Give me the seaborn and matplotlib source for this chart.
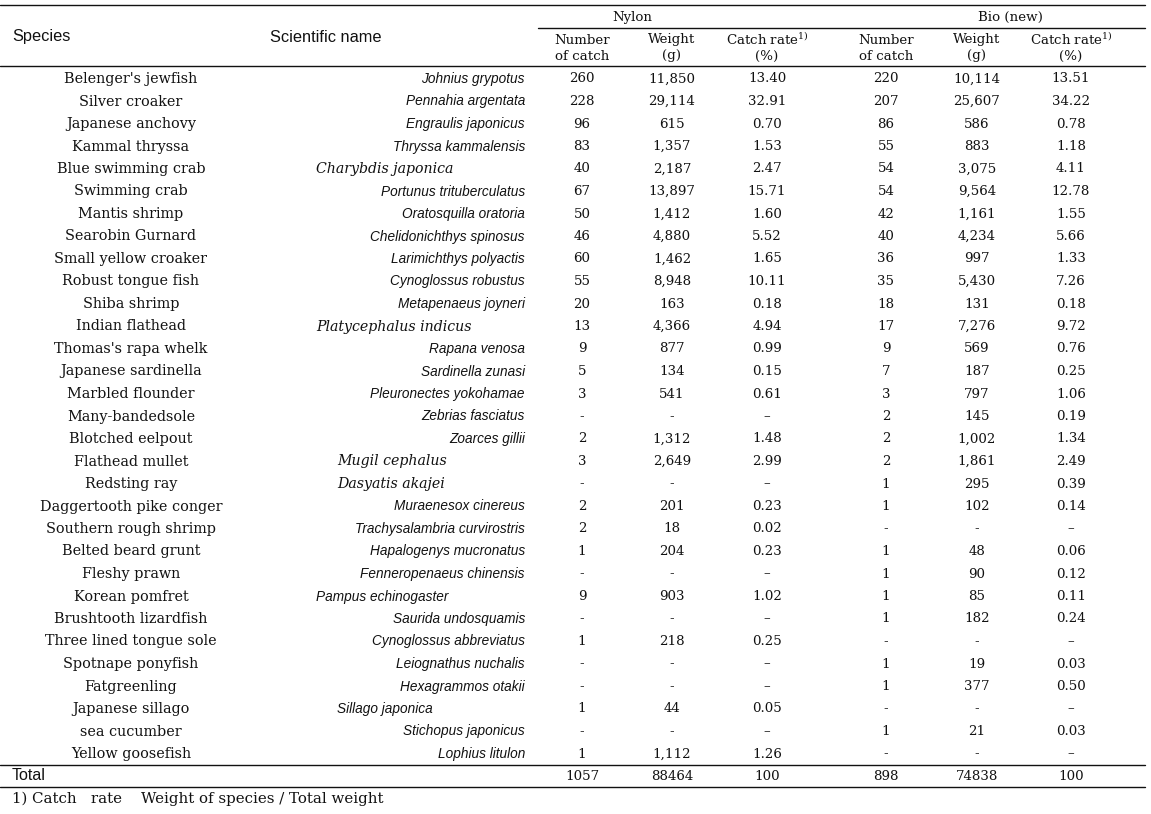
import matplotlib
matplotlib.use("Agg")
import matplotlib.pyplot as plt
import seaborn as sns
import pandas as pd

# ── Data ──────────────────────────────────────────────────────────────────────
species = [
    "Belenger's jewfish", "Silver croaker", "Japanese anchovy", "Kammal thryssa",
    "Blue swimming crab", "Swimming crab", "Mantis shrimp", "Searobin Gurnard",
    "Small yellow croaker", "Robust tongue fish", "Shiba shrimp", "Indian flathead",
    "Thomas's rapa whelk", "Japanese sardinella", "Marbled flounder", "Many-bandedsole",
    "Blotched eelpout", "Flathead mullet", "Redsting ray", "Daggertooth pike conger",
    "Southern rough shrimp", "Belted beard grunt", "Fleshy prawn", "Korean pomfret",
    "Brushtooth lizardfish", "Three lined tongue sole", "Spotnape ponyfish",
    "Fatgreenling", "Japanese sillago", "sea cucumber", "Yellow goosefish",
]
scientific = [
    "Johnius grypotus", "Pennahia argentata", "Engraulis japonicus", "Thryssa kammalensis",
    "Charybdis japonica", "Portunus trituberculatus", "Oratosquilla oratoria",
    "Chelidonichthys spinosus", "Larimichthys polyactis", "Cynoglossus robustus",
    "Metapenaeus joyneri", "Platycephalus indicus", "Rapana venosa", "Sardinella zunasi",
    "Pleuronectes yokohamae", "Zebrias fasciatus", "Zoarces gillii", "Mugil cephalus",
    "Dasyatis akajei", "Muraenesox cinereus", "Trachysalambria curvirostris",
    "Hapalogenys mucronatus", "Fenneropenaeus chinensis", "Pampus echinogaster",
    "Saurida undosquamis", "Cynoglossus abbreviatus", "Leiognathus nuchalis",
    "Hexagrammos otakii", "Sillago japonica", "Stichopus japonicus", "Lophius litulon",
]
n_nylon = [260, 228, 96, 83, 40, 67, 50, 46, 60, 55, 20, 13, 9, 5, 3, None, 2, 3,
           None, 2, 2, 1, None, 9, None, 1, None, None, 1, None, 1]
w_nylon = [11850, 29114, 615, 1357, 2187, 13897, 1412, 4880, 1462, 8948, 163, 4366,
           877, 134, 541, None, 1312, 2649, None, 201, 18, 204, None, 903, None, 218,
           None, None, 44, None, 1112]
r_nylon = [13.40, 32.91, 0.70, 1.53, 2.47, 15.71, 1.60, 5.52, 1.65, 10.11, 0.18, 4.94,
           0.99, 0.15, 0.61, None, 1.48, 2.99, None, 0.23, 0.02, 0.23, None, 1.02, None,
           0.25, None, None, 0.05, None, 1.26]
n_bio = [220, 207, 86, 55, 54, 54, 42, 40, 36, 35, 18, 17, 9, 7, 3, 2, 2, 2, 1, 1,
         None, 1, 1, 1, 1, None, 1, 1, None, 1, None]
w_bio = [10114, 25607, 586, 883, 3075, 9564, 1161, 4234, 997, 5430, 131, 7276, 569,
         187, 797, 145, 1002, 1861, 295, 102, None, 48, 90, 85, 182, None, 19, 377,
         None, 21, None]
r_bio = [13.51, 34.22, 0.78, 1.18, 4.11, 12.78, 1.55, 5.66, 1.33, 7.26, 0.18, 9.72,
         0.76, 0.25, 1.06, 0.19, 1.34, 2.49, 0.39, 0.14, None, 0.06, 0.12, 0.11, 0.24,
         None, 0.03, 0.50, None, 0.03, None]
totals = ["1057", "88464", "100", "898", "74838", "100"]

# ── Style (how some scientific names were typeset in the source) ─────────────
# "r" = right aligned sans italic, "ls*" = left serif italic, "l*" = left sans italic
sci_style = ["r"] * len(scientific)
for i in (4, 11):
    sci_style[i] = "ls1"
for i in (17, 18):
    sci_style[i] = "ls2"
sci_style[23] = "l1"
sci_style[28] = "l2"

df = pd.DataFrame({
    "species": species, "scientific": scientific,
    "n_nylon": n_nylon, "w_nylon": w_nylon, "r_nylon": r_nylon,
    "n_bio": n_bio, "w_bio": w_bio, "r_bio": r_bio,
})


def fmt_int(v, comma=True):
    if v is None or pd.isna(v):
        return "-"
    return f"{int(v):,}" if comma else str(int(v))


def fmt_rate(v):
    if v is None or pd.isna(v):
        return "–"
    return f"{v:.2f}"


sns.set_theme(style="white")
plt.rcParams["font.family"] = ["DejaVu Serif"]
plt.rcParams["mathtext.fontset"] = "dejavuserif"

W, H = 1151, 814
fig = plt.figure(figsize=(W / 100, H / 100), dpi=100)
ax = fig.add_axes([0, 0, 1, 1])
ax.set_xlim(0, W)
ax.set_ylim(H, 0)
ax.axis("off")

serif = "DejaVu Serif"
sans = "Liberation Sans"
fs = 9.6          # numbers / sub headers
fs_sp = 10.4      # species names (wide serif in the source)
fs_sci = 9.8
ink = "#111111"

# column centres
x_sp, x_sci = 131, 525
x_cols = [582, 672, 767, 886, 977, 1071]
left_x = {"ls1": 316, "ls2": 337, "l1": 316, "l2": 337}

row0, step = 79, 22.5

# ── Rules ─────────────────────────────────────────────────────────────────────
lw = 1.0
ax.plot([0, 1145], [5, 5], color=ink, lw=lw)
ax.plot([538, 1145], [28, 28], color=ink, lw=lw)
ax.plot([0, 1145], [66, 66], color=ink, lw=lw)
ax.plot([0, 1145], [765, 765], color=ink, lw=lw)
ax.plot([0, 1145], [787, 787], color=ink, lw=lw)

# ── Header ────────────────────────────────────────────────────────────────────
ax.text(12, 37, "Species", family=sans, fontsize=11.8, va="center", color=ink)
ax.text(270, 37, "Scientific name", family=sans, fontsize=11.8, va="center", color=ink)
ax.text(632, 17, "Nylon", family=serif, fontsize=fs, ha="center", va="center", color=ink)
ax.text(1010, 17, "Bio (new)", family=serif, fontsize=fs, ha="center", va="center", color=ink)
sub_top = ["Number", "Weight", r"Catch rate$^{1)}$"] * 2
sub_bot = ["of catch", "(g)", "(%)"] * 2
for x, t, b in zip(x_cols, sub_top, sub_bot):
    ax.text(x, 40, t, family=serif, fontsize=fs, ha="center", va="center", color=ink)
    ax.text(x, 56, b, family=serif, fontsize=fs, ha="center", va="center", color=ink)

# ── Body ──────────────────────────────────────────────────────────────────────
for i, row in df.iterrows():
    y = row0 + i * step
    ax.text(x_sp, y, row["species"], family=serif, fontsize=fs_sp, ha="center",
            va="center", color=ink)
    st = sci_style[i]
    if st == "r":
        ax.text(x_sci, y, row["scientific"], family=sans, style="italic",
                fontsize=fs_sci, ha="right", va="center", color=ink)
    else:
        fam = serif if st.startswith("ls") else sans
        size = 10.2 if st.startswith("ls") else fs_sci
        ax.text(left_x[st], y, row["scientific"], family=fam, style="italic",
                fontsize=size, ha="left", va="center", color=ink)
    vals = [fmt_int(row["n_nylon"]), fmt_int(row["w_nylon"]), fmt_rate(row["r_nylon"]),
            fmt_int(row["n_bio"]), fmt_int(row["w_bio"]), fmt_rate(row["r_bio"])]
    for x, v in zip(x_cols, vals):
        ax.text(x, y, v, family=serif, fontsize=fs, ha="center", va="center", color=ink)

# ── Total + footnote ─────────────────────────────────────────────────────────
ax.text(12, 776, "Total", family=sans, fontsize=11.5, va="center", color=ink)
for x, v in zip(x_cols, totals):
    ax.text(x, 776, v, family=serif, fontsize=fs, ha="center", va="center", color=ink)
ax.text(12, 799, "1) Catch   rate    Weight of species / Total weight", family=serif,
        fontsize=10.8, va="center", color=ink)

fig.savefig("out.png", dpi=100, facecolor="white")
plt.close(fig)
